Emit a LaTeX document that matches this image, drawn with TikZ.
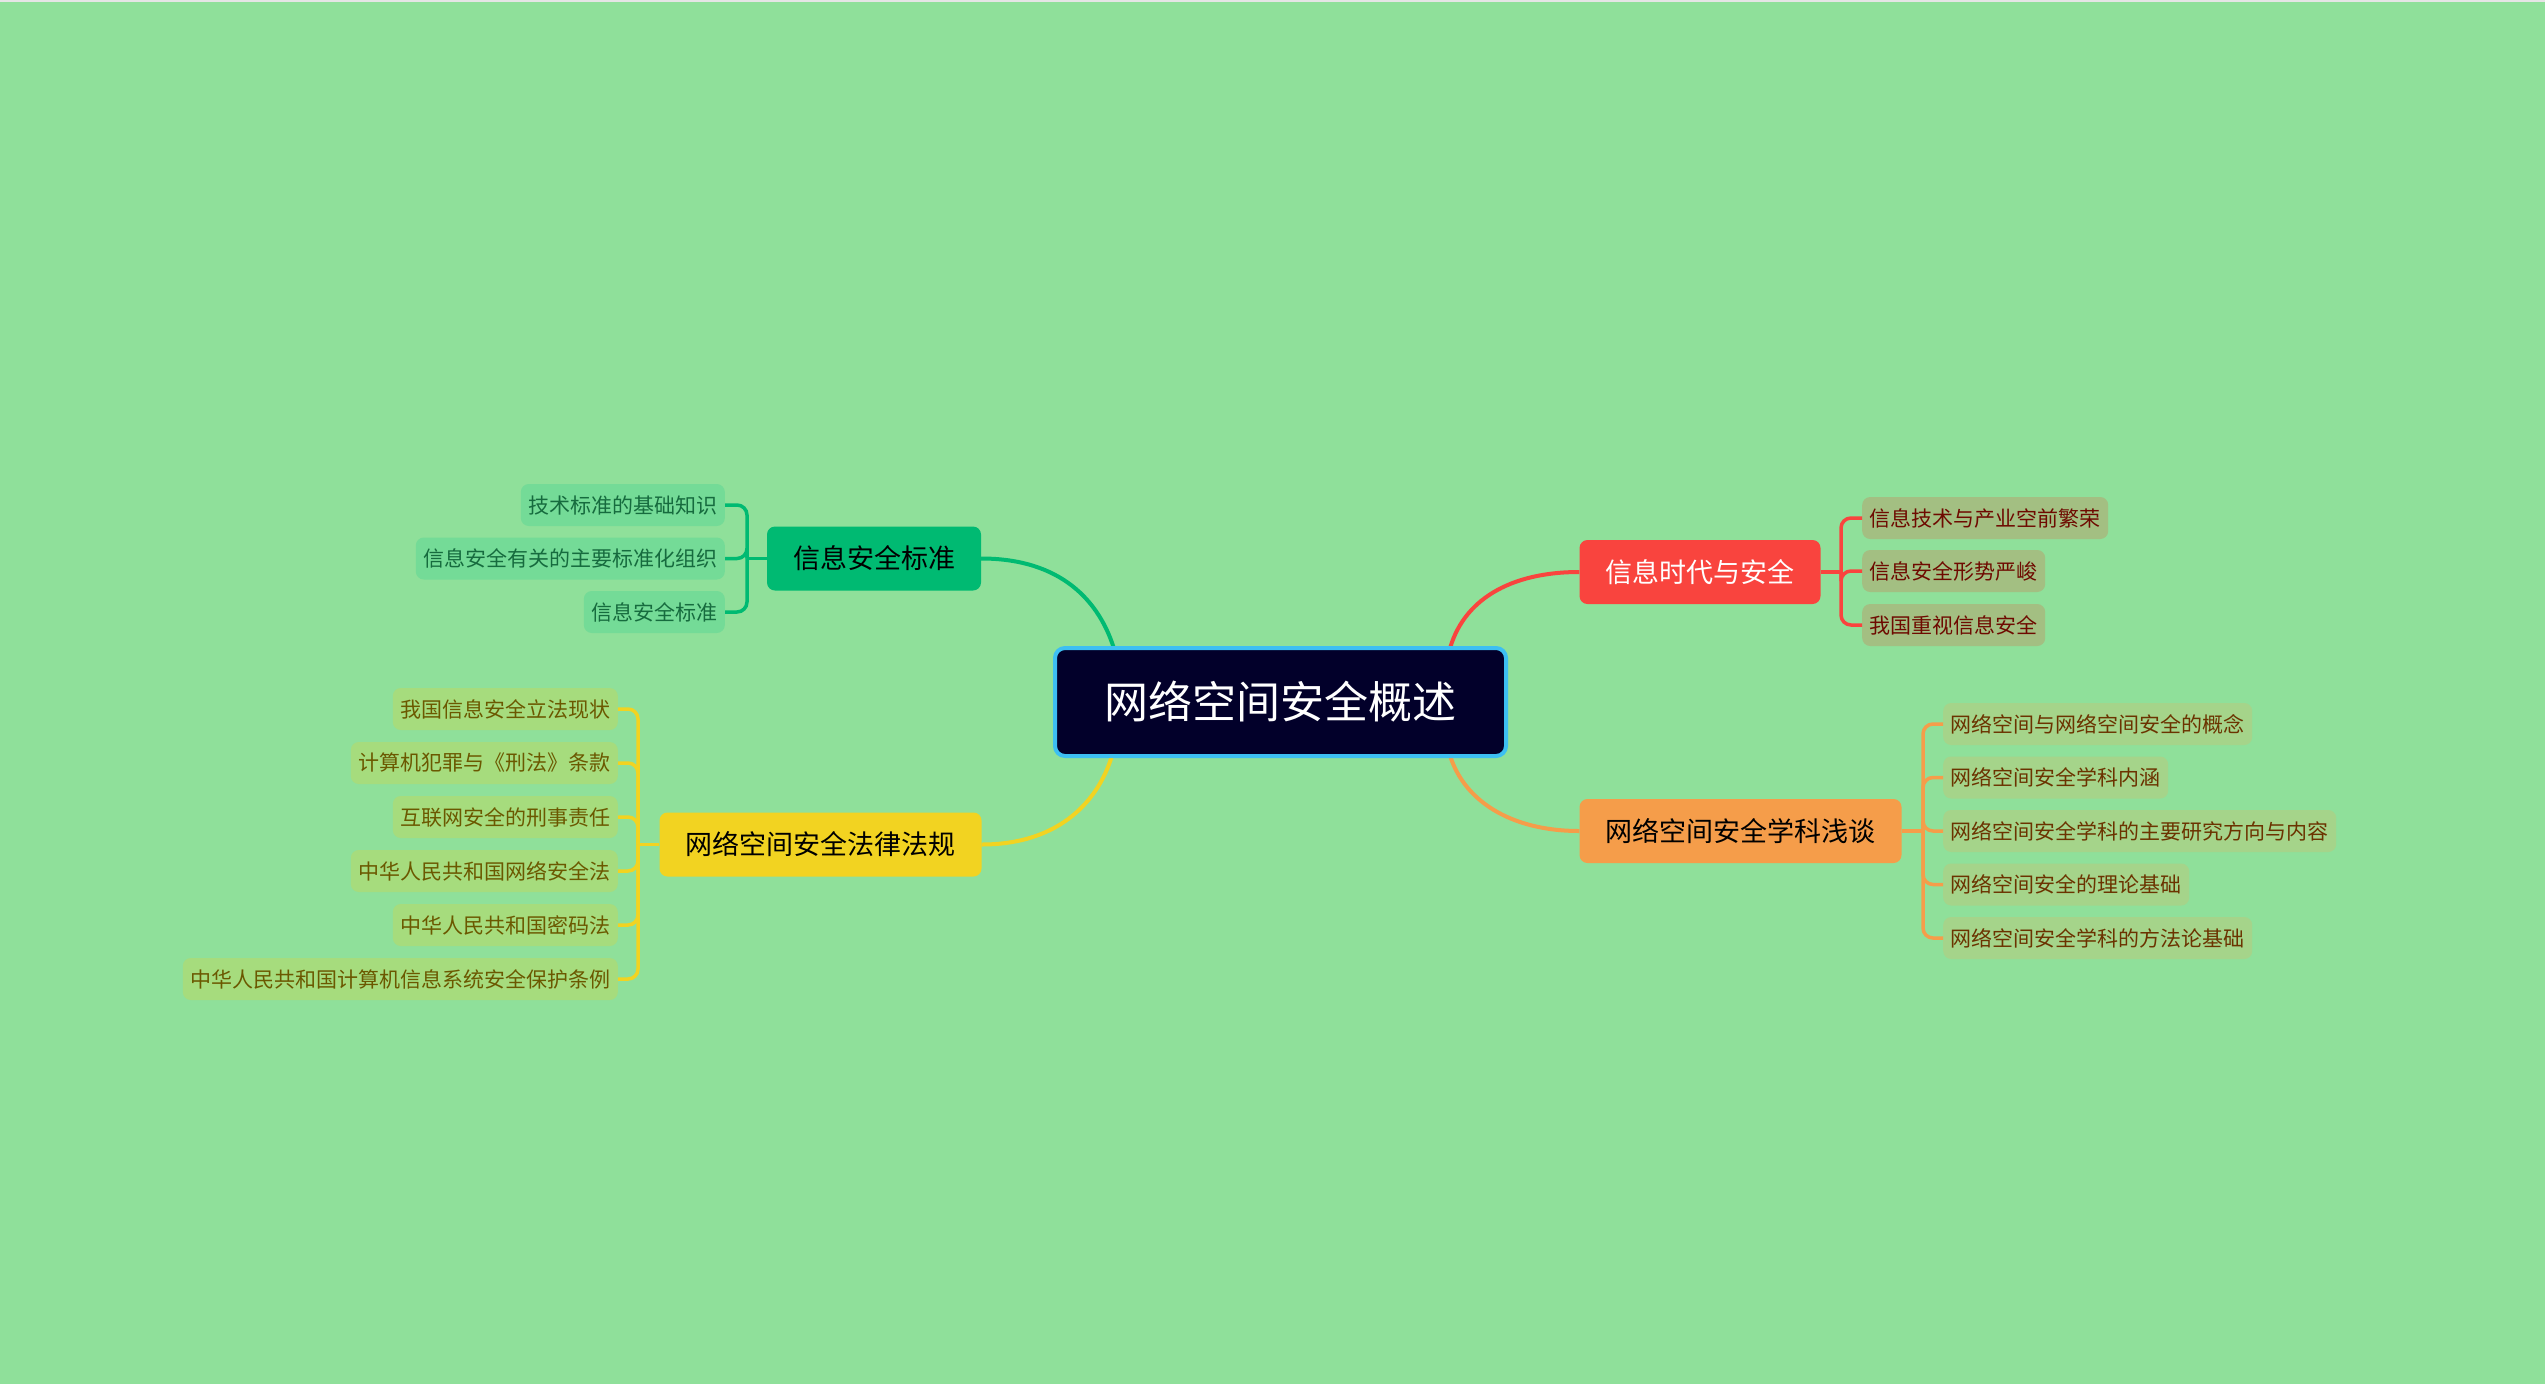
\documentclass[tikz,border=0pt]{standalone}
\usepackage{fontspec}
\setmainfont{Noto Sans CJK SC}
\definecolor{bg}{HTML}{8FE09A}
\definecolor{cred}{HTML}{F9443E}
\definecolor{corange}{HTML}{F59D4A}
\definecolor{cgreen}{HTML}{00BA72}
\definecolor{cyellow}{HTML}{F2D321}
\definecolor{cdark}{HTML}{02002A}
\definecolor{ccyan}{HTML}{3DBFF2}
\definecolor{lred}{HTML}{A3BF82}
\definecolor{tred}{HTML}{6E0A00}
\definecolor{lorange}{HTML}{A5D48A}
\definecolor{torange}{HTML}{6B3300}
\definecolor{lgreen}{HTML}{74DB97}
\definecolor{tgreen}{HTML}{166B3E}
\definecolor{lyellow}{HTML}{A6DC7D}
\definecolor{tyellow}{HTML}{6B5800}
\tikzset{
  mainbox/.style={rounded corners=8pt, minimum height=64pt, inner xsep=26pt, inner ysep=0pt, font=\fontsize{27}{30}\selectfont},
  leafbox/.style={rounded corners=8pt, minimum height=42pt, inner xsep=7.5pt, inner ysep=0pt, font=\fontsize{21}{24}\selectfont},
  curveline/.style={line width=4pt},
  bracketline/.style={line width=3.5pt, rounded corners=10pt},
}
\begin{document}
\begin{tikzpicture}[x=1pt,y=-1pt]
\fill[bg] (0,0) rectangle (2545,1384);
\useasboundingbox (0,0) rectangle (2545,1384);
\fill[black!10] (0,0) rectangle (2545,2);

% anchor points on the central node
\coordinate (cNW) at (1115,652);
\coordinate (cNE) at (1449,652);
\coordinate (cSW) at (1113,752);
\coordinate (cSE) at (1449,752);

% main nodes
\node[mainbox, fill=cred, text=white] (red) at (1700,572) {信息时代与安全};
\node[mainbox, fill=corange, text=black] (orange) at (1740.5,831) {网络空间安全学科浅谈};
\node[mainbox, fill=cgreen, text=black] (green) at (874,558.5) {信息安全标准};
\node[mainbox, fill=cyellow, text=black] (yellow) at (820.5,844.5) {网络空间安全法律法规};

% curves from center
\draw[curveline, cgreen] (green.east) .. controls (1060,558.5) and (1100,600) .. (cNW);
\draw[curveline, cred] (red.west) .. controls (1510,572) and (1462,600) .. (cNE);
\draw[curveline, corange] (orange.west) .. controls (1510,831) and (1462,800) .. (cSE);
\draw[curveline, cyellow] (yellow.east) .. controls (1060,844.5) and (1100,800) .. (cSW);

% central node
\node[rounded corners=10pt, fill=cdark, draw=ccyan, line width=4pt, minimum width=451pt, minimum height=108pt, inner sep=0pt, text=white, font=\fontsize{44}{50}\selectfont] (center) at (1280.5,702) {网络空间安全概述};

% red leaves
\node[leafbox, fill=lred, text=tred, anchor=west] (r1) at (1862,518) {信息技术与产业空前繁荣};
\node[leafbox, fill=lred, text=tred, anchor=west] (r2) at (1862,571) {信息安全形势严峻};
\node[leafbox, fill=lred, text=tred, anchor=west] (r3) at (1862,625) {我国重视信息安全};
\coordinate (rj) at (1841,572);
\draw[bracketline, cred] (red.east) -- (rj);
\foreach \n in {r1,r2,r3} \draw[bracketline, cred] (rj) |- (\n.west);

% orange leaves
\node[leafbox, fill=lorange, text=torange, anchor=west] (o1) at (1943,724) {网络空间与网络空间安全的概念};
\node[leafbox, fill=lorange, text=torange, anchor=west] (o2) at (1943,777.5) {网络空间安全学科内涵};
\node[leafbox, fill=lorange, text=torange, anchor=west] (o3) at (1943,831) {网络空间安全学科的主要研究方向与内容};
\node[leafbox, fill=lorange, text=torange, anchor=west] (o4) at (1943,884.5) {网络空间安全的理论基础};
\node[leafbox, fill=lorange, text=torange, anchor=west] (o5) at (1943,938) {网络空间安全学科的方法论基础};
\coordinate (oj) at (1923,831);
\draw[bracketline, corange] (orange.east) -- (oj);
\foreach \n in {o1,o2,o3,o4,o5} \draw[bracketline, corange] (oj) |- (\n.west);

% green leaves
\node[leafbox, fill=lgreen, text=tgreen, anchor=east] (g1) at (725,505) {技术标准的基础知识};
\node[leafbox, fill=lgreen, text=tgreen, anchor=east] (g2) at (725,558.5) {信息安全有关的主要标准化组织};
\node[leafbox, fill=lgreen, text=tgreen, anchor=east] (g3) at (725,612) {信息安全标准};
\coordinate (gj) at (747,558.5);
\draw[bracketline, cgreen] (green.west) -- (gj);
\foreach \n in {g1,g2,g3} \draw[bracketline, cgreen] (gj) |- (\n.east);

% yellow leaves
\node[leafbox, fill=lyellow, text=tyellow, anchor=east] (y1) at (618,709) {我国信息安全立法现状};
\node[leafbox, fill=lyellow, text=tyellow, anchor=east] (y2) at (618,763) {计算机犯罪与《刑法》条款};
\node[leafbox, fill=lyellow, text=tyellow, anchor=east] (y3) at (618,817) {互联网安全的刑事责任};
\node[leafbox, fill=lyellow, text=tyellow, anchor=east] (y4) at (618,871) {中华人民共和国网络安全法};
\node[leafbox, fill=lyellow, text=tyellow, anchor=east] (y5) at (618,925) {中华人民共和国密码法};
\node[leafbox, fill=lyellow, text=tyellow, anchor=east] (y6) at (618,979) {中华人民共和国计算机信息系统安全保护条例};
\coordinate (yj) at (638,844.5);
\draw[bracketline, cyellow] (yellow.west) -- (yj);
\foreach \n in {y1,y2,y3,y4,y5,y6} \draw[bracketline, cyellow] (yj) |- (\n.east);
\end{tikzpicture}
\end{document}
